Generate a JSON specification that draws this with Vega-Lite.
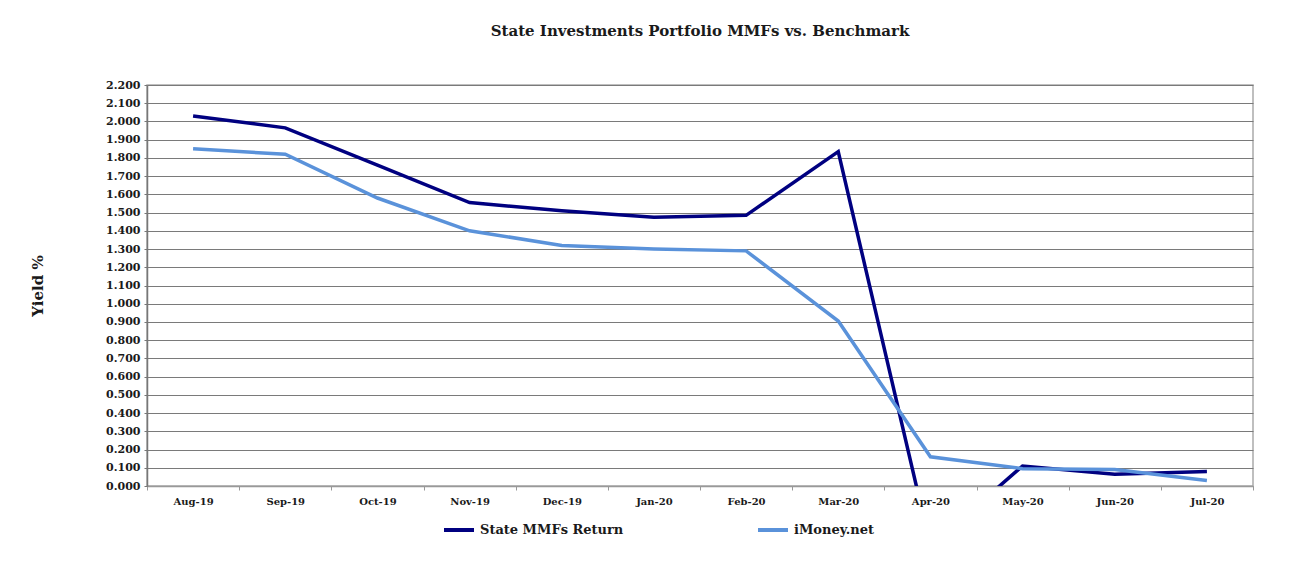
{
  "$schema": "https://vega.github.io/schema/vega-lite/v6.json",
  "autosize": "none",
  "width": 1106,
  "height": 401,
  "padding": {"left": 147, "top": 85, "right": 59, "bottom": 85},
  "background": "white",
  "title": {
    "text": "State Investments Portfolio MMFs vs. Benchmark",
    "font": "DejaVu Serif",
    "fontSize": 15,
    "fontWeight": "bold",
    "color": "#1a1a1a",
    "anchor": "middle",
    "offset": 40
  },
  "data": {
    "values": [
      {"month": "Aug-19", "series": "State MMFs Return", "value": 2.03},
      {"month": "Sep-19", "series": "State MMFs Return", "value": 1.965},
      {"month": "Oct-19", "series": "State MMFs Return", "value": 1.76},
      {"month": "Nov-19", "series": "State MMFs Return", "value": 1.555},
      {"month": "Dec-19", "series": "State MMFs Return", "value": 1.51},
      {"month": "Jan-20", "series": "State MMFs Return", "value": 1.475},
      {"month": "Feb-20", "series": "State MMFs Return", "value": 1.485},
      {"month": "Mar-20", "series": "State MMFs Return", "value": 1.835},
      {"month": "Apr-20", "series": "State MMFs Return", "value": -0.33},
      {"month": "May-20", "series": "State MMFs Return", "value": 0.11},
      {"month": "Jun-20", "series": "State MMFs Return", "value": 0.065},
      {"month": "Jul-20", "series": "State MMFs Return", "value": 0.08},
      {"month": "Aug-19", "series": "iMoney.net", "value": 1.85},
      {"month": "Sep-19", "series": "iMoney.net", "value": 1.82},
      {"month": "Oct-19", "series": "iMoney.net", "value": 1.58},
      {"month": "Nov-19", "series": "iMoney.net", "value": 1.40},
      {"month": "Dec-19", "series": "iMoney.net", "value": 1.32},
      {"month": "Jan-20", "series": "iMoney.net", "value": 1.30},
      {"month": "Feb-20", "series": "iMoney.net", "value": 1.29},
      {"month": "Mar-20", "series": "iMoney.net", "value": 0.905},
      {"month": "Apr-20", "series": "iMoney.net", "value": 0.16},
      {"month": "May-20", "series": "iMoney.net", "value": 0.095},
      {"month": "Jun-20", "series": "iMoney.net", "value": 0.09},
      {"month": "Jul-20", "series": "iMoney.net", "value": 0.03}
    ]
  },
  "mark": {"type": "line", "strokeWidth": 3.5, "clip": true},
  "encoding": {
    "x": {
      "field": "month",
      "type": "ordinal",
      "sort": null,
      "scale": {"type": "band", "paddingInner": 0, "paddingOuter": 0},
      "axis": {
        "title": null,
        "labelAngle": 0,
        "labelFont": "DejaVu Serif",
        "labelFontSize": 10,
        "labelFontWeight": "bold",
        "labelColor": "#1a1a1a",
        "labelPadding": 6,
        "tickBand": "extent",
        "tickColor": "#999999",
        "tickSize": 4,
        "domainColor": "#999999",
        "domainWidth": 1.5,
        "grid": false
      }
    },
    "y": {
      "field": "value",
      "type": "quantitative",
      "scale": {"domain": [0, 2.2], "nice": false, "zero": false},
      "axis": {
        "title": "Yield %",
        "titleFont": "DejaVu Serif",
        "titleFontSize": 15,
        "titleFontWeight": "bold",
        "titleColor": "#1a1a1a",
        "titlePadding": 60,
        "values": [0, 0.1, 0.2, 0.3, 0.4, 0.5, 0.6, 0.7, 0.8, 0.9, 1.0, 1.1, 1.2, 1.3, 1.4, 1.5, 1.6, 1.7, 1.8, 1.9, 2.0, 2.1, 2.2],
        "format": ".3f",
        "labelFont": "DejaVu Serif",
        "labelFontSize": 11,
        "labelFontWeight": "bold",
        "labelColor": "#1a1a1a",
        "labelPadding": 4,
        "tickColor": "#777777",
        "tickSize": 3,
        "domainColor": "#777777",
        "domainWidth": 1.5,
        "grid": true,
        "gridColor": "#7a7a7a",
        "gridWidth": 1.2
      }
    },
    "color": {
      "field": "series",
      "type": "nominal",
      "scale": {"domain": ["State MMFs Return", "iMoney.net"], "range": ["#000080", "#5a92da"]},
      "legend": {
        "title": null,
        "orient": "none",
        "legendX": 295,
        "legendY": 428,
        "direction": "horizontal",
        "symbolType": "stroke",
        "symbolStrokeWidth": 4,
        "symbolSize": 900,
        "labelFont": "DejaVu Serif",
        "labelFontSize": 13,
        "labelFontWeight": "bold",
        "labelColor": "#1a1a1a",
        "labelLimit": 300,
        "columnPadding": 126
      }
    }
  },
  "config": {
    "view": {"stroke": "#aaaaaa", "strokeWidth": 1.5}
  }
}
